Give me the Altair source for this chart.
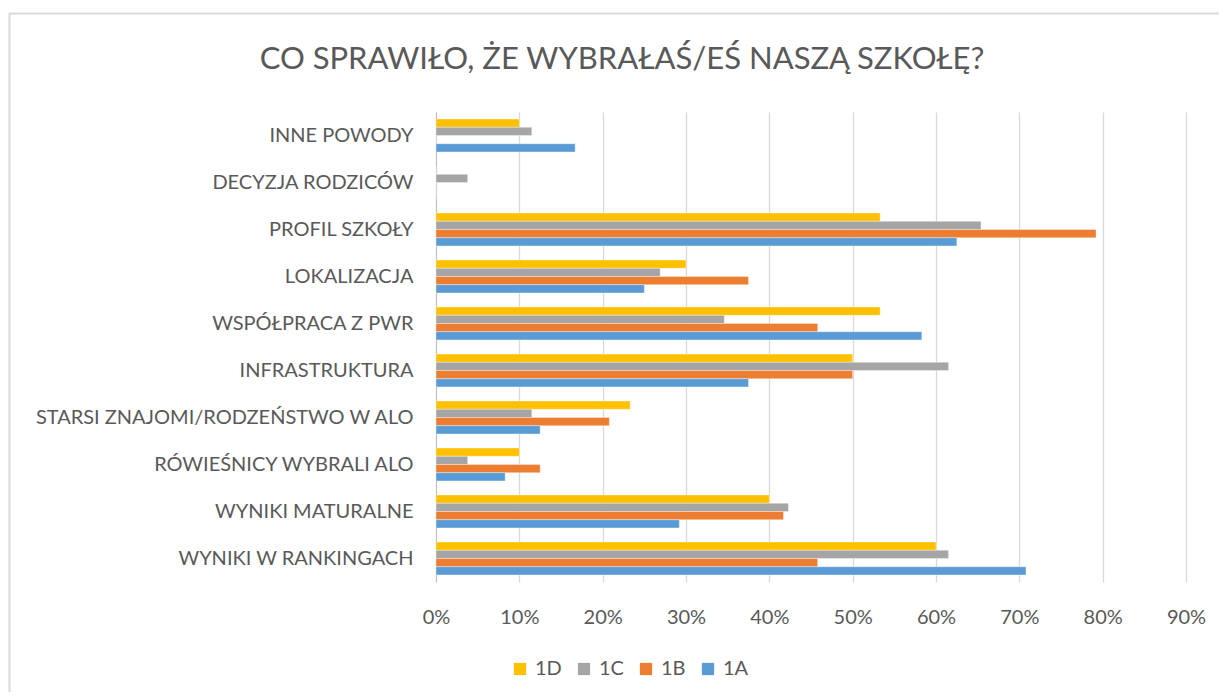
import altair as alt
import pandas as pd

categories = [
    "INNE POWODY",
    "DECYZJA RODZICÓW",
    "PROFIL SZKOŁY",
    "LOKALIZACJA",
    "WSPÓŁPRACA Z PWR",
    "INFRASTRUKTURA",
    "STARSI ZNAJOMI/RODZEŃSTWO W ALO",
    "RÓWIEŚNICY WYBRALI ALO",
    "WYNIKI MATURALNE",
    "WYNIKI W RANKINGACH",
]
series = ["1D", "1C", "1B", "1A"]
colors = ["#FFC000", "#A5A5A5", "#ED7D31", "#5B9BD5"]

v_1D = [0.100, 0.000, 0.533, 0.300, 0.533, 0.500, 0.233, 0.100, 0.400, 0.600]
v_1C = [0.115, 0.038, 0.654, 0.269, 0.346, 0.615, 0.115, 0.038, 0.423, 0.615]
v_1B = [0.000, 0.000, 0.792, 0.375, 0.458, 0.500, 0.208, 0.125, 0.417, 0.458]
v_1A = [0.167, 0.000, 0.625, 0.250, 0.583, 0.375, 0.125, 0.083, 0.292, 0.708]

x_ticks = [0, 0.1, 0.2, 0.3, 0.4, 0.5, 0.6, 0.7, 0.8, 0.9]

rows = []
for name, vals in zip(series, [v_1D, v_1C, v_1B, v_1A]):
    for c, v in zip(categories, vals):
        rows.append({"kategoria": c, "klasa": name, "wartosc": v})
df = pd.DataFrame(rows)

FONT = "Lato"
GRAY = "#595959"

frame = alt.Chart(pd.DataFrame({"a": [0]})).mark_rect(
    filled=False, stroke="#D9D9D9", strokeWidth=2
).encode(
    x=alt.value(-426.5), x2=alt.value(820), y=alt.value(-98.5), y2=alt.value(620)
)

bars = alt.Chart(df).mark_bar(stroke="white", strokeWidth=0.6, strokeOpacity=0.6).encode(
    y=alt.Y(
        "kategoria:N",
        sort=categories,
        title=None,
        scale=alt.Scale(paddingInner=0.3, paddingOuter=0.15),
        axis=alt.Axis(
            labelFont=FONT, labelFontSize=20, labelColor=GRAY, labelPadding=23,
            ticks=False, domain=True, domainColor="#BFBFBF", domainWidth=1,
            grid=False, labelLimit=500,
        ),
    ),
    yOffset=alt.YOffset("klasa:N", sort=series),
    x=alt.X(
        "wartosc:Q",
        title=None,
        scale=alt.Scale(domain=[0, 0.9], nice=False),
        axis=alt.Axis(
            values=x_ticks, format=".0%", labelFont=FONT, labelFontSize=20,
            labelColor=GRAY, labelPadding=25, ticks=False, domain=False,
            grid=True, gridColor="#D9D9D9", gridWidth=1.3, labelFlush=False,
        ),
    ),
    color=alt.Color(
        "klasa:N",
        sort=series,
        scale=alt.Scale(domain=series, range=colors),
        legend=alt.Legend(
            title=None, orient="none", direction="horizontal",
            legendX=74, legendY=547, symbolType="square", symbolSize=150,
            symbolStrokeWidth=0, labelFont=FONT, labelFontSize=20,
            labelColor=GRAY, columnPadding=12, labelOffset=5,
        ),
    ),
)

chart = alt.layer(frame, bars).properties(
    width=750,
    height=470,
    title=alt.TitleParams(
        "CO SPRAWIŁO, ŻE WYBRAŁAŚ/EŚ NASZĄ SZKOŁĘ?",
        font=FONT, fontSize=31, fontWeight="normal", color=GRAY,
        anchor="middle", offset=0, dx=-189, dy=63,
    ),
    autosize=alt.AutoSizeParams(type="none"),
    padding={"left": 428, "top": 104, "right": 33, "bottom": 110},
).configure(background="white").configure_view(stroke=None)

chart.save("out.html", embed_options={"renderer": "svg", "actions": False})
